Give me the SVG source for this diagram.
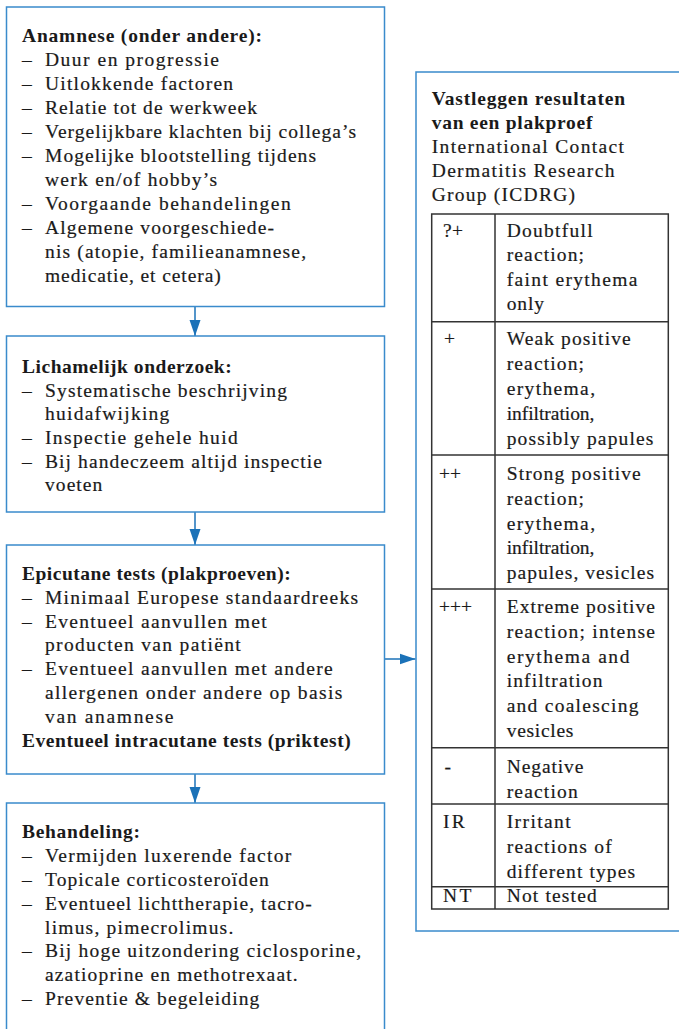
<svg xmlns="http://www.w3.org/2000/svg" width="679" height="1029" viewBox="0 0 679 1029">
<style>
.box{fill:#ffffff;stroke:#3a8bcc;stroke-width:1.5}
.t{font-family:"Liberation Serif","Times New Roman",serif;font-size:19.5px;fill:#1a1a1a;stroke:#1a1a1a;stroke-width:0.2}
.b{font-family:"Liberation Serif","Times New Roman",serif;font-size:19.5px;font-weight:bold;fill:#1a1a1a}
.c{stroke:#1b72b8;stroke-width:1.5;fill:none}
.tbl{fill:none;stroke:#333333;stroke-width:1.5}
</style>
<defs>
<marker id="arr" markerUnits="userSpaceOnUse" markerWidth="16" markerHeight="12" refX="16" refY="6" orient="auto">
<path d="M0,0.5 L16,6 L0,11.5 z" fill="#1b72b8"/>
</marker>
</defs>
<rect width="679" height="1029" fill="#ffffff"/>

<g id="connectors">
<line class="c" x1="195" y1="306.5" x2="195" y2="336" marker-end="url(#arr)"/>
<line class="c" x1="195" y1="512" x2="195" y2="545" marker-end="url(#arr)"/>
<line class="c" x1="195" y1="774" x2="195" y2="803" marker-end="url(#arr)"/>
<line class="c" x1="385" y1="659" x2="415.5" y2="659" marker-end="url(#arr)"/>
</g>

<g id="node-anamnese">
<rect class="box" x="6.5" y="7" width="378" height="299.5"/>
<text class="b" x="22" y="42" textLength="240" lengthAdjust="spacing">Anamnese (onder andere):</text>
<text class="t" x="22" y="66">–</text><text class="t" x="45" y="66" textLength="174" lengthAdjust="spacing">Duur en progressie</text>
<text class="t" x="22" y="90">–</text><text class="t" x="45" y="90" textLength="188" lengthAdjust="spacing">Uitlokkende factoren</text>
<text class="t" x="22" y="114">–</text><text class="t" x="45" y="114" textLength="212" lengthAdjust="spacing">Relatie tot de werkweek</text>
<text class="t" x="22" y="138">–</text><text class="t" x="45" y="138" textLength="311" lengthAdjust="spacing">Vergelijkbare klachten bij collega’s</text>
<text class="t" x="22" y="162">–</text><text class="t" x="45" y="162" textLength="271" lengthAdjust="spacing">Mogelijke blootstelling tijdens</text>
<text class="t" x="45" y="186" textLength="172" lengthAdjust="spacing">werk en/of hobby’s</text>
<text class="t" x="22" y="210">–</text><text class="t" x="45" y="210" textLength="245.7" lengthAdjust="spacing">Voorgaande behandelingen</text>
<text class="t" x="22" y="234">–</text><text class="t" x="45" y="234" textLength="229" lengthAdjust="spacing">Algemene voorgeschiede-</text>
<text class="t" x="45" y="258" textLength="261" lengthAdjust="spacing">nis (atopie, familieanamnese,</text>
<text class="t" x="45" y="282" textLength="175.7" lengthAdjust="spacing">medicatie, et cetera)</text>
</g>

<g id="node-lichamelijk">
<rect class="box" x="6.5" y="336" width="378" height="176"/>
<text class="b" x="22" y="373" textLength="209.7" lengthAdjust="spacing">Lichamelijk onderzoek:</text>
<text class="t" x="22" y="396.7">–</text><text class="t" x="45" y="396.7" textLength="242" lengthAdjust="spacing">Systematische beschrijving</text>
<text class="t" x="45" y="420.3" textLength="124.3" lengthAdjust="spacing">huidafwijking</text>
<text class="t" x="22" y="444">–</text><text class="t" x="45" y="444" textLength="192.7" lengthAdjust="spacing">Inspectie gehele huid</text>
<text class="t" x="22" y="467.7">–</text><text class="t" x="45" y="467.7" textLength="277" lengthAdjust="spacing">Bij handeczeem altijd inspectie</text>
<text class="t" x="45" y="491.3" textLength="57.3" lengthAdjust="spacing">voeten</text>
</g>

<g id="node-epicutaan">
<rect class="box" x="6.5" y="545" width="378" height="229"/>
<text class="b" x="22" y="580" textLength="268.7" lengthAdjust="spacing">Epicutane tests (plakproeven):</text>
<text class="t" x="22" y="603.8">–</text><text class="t" x="45" y="603.8" textLength="313" lengthAdjust="spacing">Minimaal Europese standaardreeks</text>
<text class="t" x="22" y="627.6">–</text><text class="t" x="45" y="627.6" textLength="221.7" lengthAdjust="spacing">Eventueel aanvullen met</text>
<text class="t" x="45" y="651.4" textLength="195.7" lengthAdjust="spacing">producten van patiënt</text>
<text class="t" x="22" y="675.2">–</text><text class="t" x="45" y="675.2" textLength="287.7" lengthAdjust="spacing">Eventueel aanvullen met andere</text>
<text class="t" x="45" y="699" textLength="297.3" lengthAdjust="spacing">allergenen onder andere op basis</text>
<text class="t" x="45" y="722.8" textLength="128.3" lengthAdjust="spacing">van anamnese</text>
<text class="b" x="22" y="746.6" textLength="328.7" lengthAdjust="spacing">Eventueel intracutane tests (priktest)</text>
</g>

<g id="node-behandeling">
<rect class="box" x="6.5" y="803" width="378" height="240"/>
<text class="b" x="22" y="838.3" textLength="118" lengthAdjust="spacing">Behandeling:</text>
<text class="t" x="22" y="862.1">–</text><text class="t" x="45" y="862.1" textLength="246.3" lengthAdjust="spacing">Vermijden luxerende factor</text>
<text class="t" x="22" y="885.9">–</text><text class="t" x="45" y="885.9" textLength="223.7" lengthAdjust="spacing">Topicale corticosteroïden</text>
<text class="t" x="22" y="909.7">–</text><text class="t" x="45" y="909.7" textLength="266.7" lengthAdjust="spacing">Eventueel lichttherapie, tacro-</text>
<text class="t" x="45" y="933.5" textLength="188.3" lengthAdjust="spacing">limus, pimecrolimus.</text>
<text class="t" x="22" y="957.3">–</text><text class="t" x="45" y="957.3" textLength="316" lengthAdjust="spacing">Bij hoge uitzondering ciclosporine,</text>
<text class="t" x="45" y="981.1" textLength="252.7" lengthAdjust="spacing">azatioprine en methotrexaat.</text>
<text class="t" x="22" y="1004.9">–</text><text class="t" x="45" y="1004.9" textLength="214.3" lengthAdjust="spacing">Preventie &amp; begeleiding</text>
</g>

<g id="node-plakproef">
<rect class="box" x="416" y="72" width="280" height="859"/>
<text class="b" x="431.7" y="105" textLength="193.3" lengthAdjust="spacing">Vastleggen resultaten</text>
<text class="b" x="431.7" y="129" textLength="160.7" lengthAdjust="spacing">van een plakproef</text>
<text class="t" x="431.7" y="153" textLength="192.3" lengthAdjust="spacing">International Contact</text>
<text class="t" x="431.7" y="177" textLength="182.7" lengthAdjust="spacing">Dermatitis Research</text>
<text class="t" x="431.7" y="201.3" textLength="143.3" lengthAdjust="spacing">Group (ICDRG)</text>
<g id="table">
<rect class="tbl" x="431.7" y="214" width="236.6" height="695"/>
<line class="tbl" x1="495" y1="214" x2="495" y2="909"/>
<line class="tbl" x1="431.7" y1="321.7" x2="668.3" y2="321.7"/>
<line class="tbl" x1="431.7" y1="455" x2="668.3" y2="455"/>
<line class="tbl" x1="431.7" y1="589" x2="668.3" y2="589"/>
<line class="tbl" x1="431.7" y1="747.7" x2="668.3" y2="747.7"/>
<line class="tbl" x1="431.7" y1="804" x2="668.3" y2="804"/>
<line class="tbl" x1="431.7" y1="886.7" x2="668.3" y2="886.7"/>

<text class="t" x="443" y="236.5" textLength="20" lengthAdjust="spacing">?+</text>
<text class="t" x="506.7" y="236.5" textLength="86" lengthAdjust="spacing">Doubtfull</text>
<text class="t" x="506.7" y="261" textLength="77.3" lengthAdjust="spacing">reaction;</text>
<text class="t" x="506.7" y="285.6" textLength="130.7" lengthAdjust="spacing">faint erythema</text>
<text class="t" x="506.7" y="310.2" textLength="37.3" lengthAdjust="spacing">only</text>

<text class="t" x="444" y="345">+</text>
<text class="t" x="506.7" y="345" textLength="124" lengthAdjust="spacing">Weak positive</text>
<text class="t" x="506.7" y="370" textLength="77.3" lengthAdjust="spacing">reaction;</text>
<text class="t" x="506.7" y="395" textLength="88.3" lengthAdjust="spacing">erythema,</text>
<text class="t" x="506.7" y="420" textLength="87.7" lengthAdjust="spacing">infiltration,</text>
<text class="t" x="506.7" y="445" textLength="146.7" lengthAdjust="spacing">possibly papules</text>

<text class="t" x="439" y="480">++</text>
<text class="t" x="506.7" y="480" textLength="134" lengthAdjust="spacing">Strong positive</text>
<text class="t" x="506.7" y="504.8" textLength="77.3" lengthAdjust="spacing">reaction;</text>
<text class="t" x="506.7" y="529.6" textLength="88.3" lengthAdjust="spacing">erythema,</text>
<text class="t" x="506.7" y="554.4" textLength="87.7" lengthAdjust="spacing">infiltration,</text>
<text class="t" x="506.7" y="579.2" textLength="147.3" lengthAdjust="spacing">papules, vesicles</text>

<text class="t" x="439" y="613.3">+++</text>
<text class="t" x="506.7" y="613.3" textLength="148.3" lengthAdjust="spacing">Extreme positive</text>
<text class="t" x="506.7" y="638" textLength="148.3" lengthAdjust="spacing">reaction; intense</text>
<text class="t" x="506.7" y="662.7" textLength="122.7" lengthAdjust="spacing">erythema and</text>
<text class="t" x="506.7" y="687.4" textLength="95.7" lengthAdjust="spacing">infiltration</text>
<text class="t" x="506.7" y="712.1" textLength="131.7" lengthAdjust="spacing">and coalescing</text>
<text class="t" x="506.7" y="736.8" textLength="66.7" lengthAdjust="spacing">vesicles</text>

<text class="t" x="444.5" y="773">-</text>
<text class="t" x="506.7" y="773" textLength="76.7" lengthAdjust="spacing">Negative</text>
<text class="t" x="506.7" y="797.5" textLength="71" lengthAdjust="spacing">reaction</text>

<text class="t" x="443" y="828.3" textLength="21.7" lengthAdjust="spacing">IR</text>
<text class="t" x="506.7" y="828.3" textLength="64" lengthAdjust="spacing">Irritant</text>
<text class="t" x="506.7" y="853" textLength="105" lengthAdjust="spacing">reactions of</text>
<text class="t" x="506.7" y="877.7" textLength="128.3" lengthAdjust="spacing">different types</text>

<text class="t" x="443" y="901.5" textLength="28.3" lengthAdjust="spacing">NT</text>
<text class="t" x="506.7" y="901.5" textLength="90" lengthAdjust="spacing">Not tested</text>
</g>
</g>
</svg>
